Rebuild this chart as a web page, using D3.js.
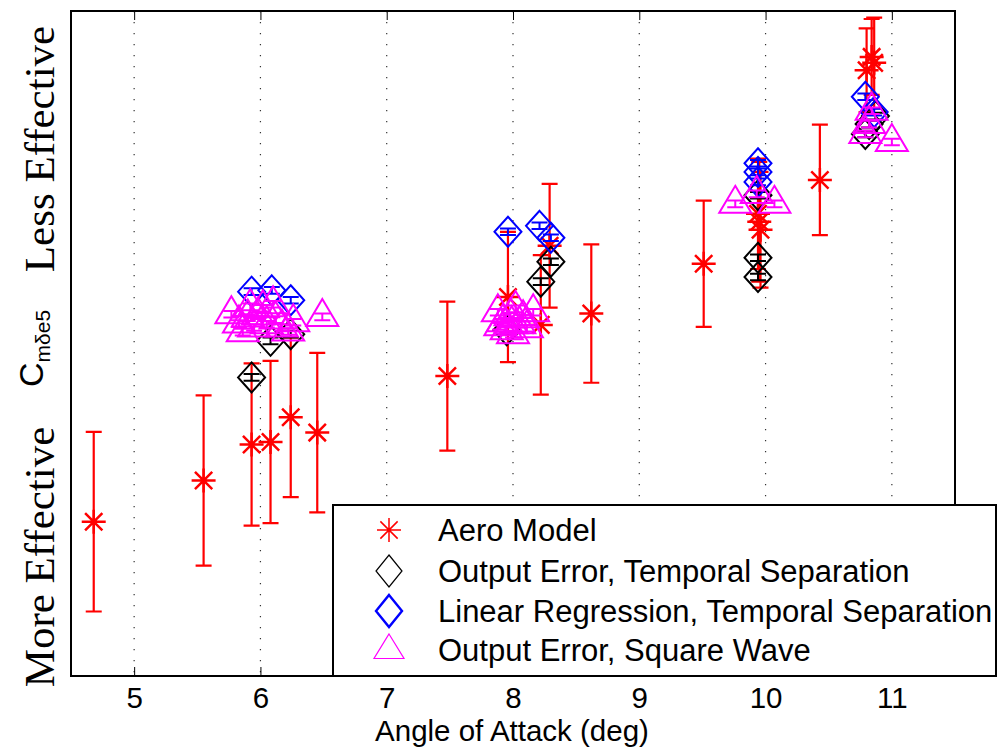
<!DOCTYPE html>
<html>
<head>
<meta charset="utf-8">
<script src="https://cdn.jsdelivr.net/npm/d3@7"></script>
<style>
  html, body { margin: 0; padding: 0; background: #fff; }
  svg { display: block; }
</style>
</head>
<body>
<script>
// ---------- DATA ----------
const xTicks = [5, 6, 7, 8, 9, 10, 11];

// Aero Model (red asterisks with error bars)
const aeroX   = [4.68, 5.55, 5.93, 6.08, 6.24, 6.45, 7.48, 7.96, 8.22, 8.29, 8.62, 9.51, 9.94, 9.95, 9.96, 10.43, 10.80, 10.86, 10.84];
const aeroY   = [23.2, 29.4, 34.8, 35.2, 38.9, 36.6, 45.1, 57.0, 52.8, 64.7, 54.5, 62.0, 69.5, 68.3, 67.1, 74.6, 91.1, 92.2, 93.1];
const aeroErr = [13.5, 12.8, 12.2, 12.2, 12.0, 12.0, 11.2, 9.8, 10.5, 9.3, 10.4, 9.5, 8.3, 9.0, 8.7, 8.3, 6.3, 6.8, 5.7];

// Output Error, Temporal Separation (black diamonds)
const oeTsX   = [5.93, 6.08, 6.24, 7.95, 8.22, 8.30, 9.94, 9.94, 9.94, 10.79, 10.82, 10.87];
const oeTsY   = [44.9, 50.4, 51.4, 52.0, 59.3, 62.3, 72.3, 62.9, 60.0, 81.5, 83.0, 84.2];
const oeTsErr = [0.5, 0.5, 0.5, 0.5, 0.5, 0.5, 0.5, 0.5, 0.5, 0.5, 0.5, 0.5];

// Linear Regression, Temporal Separation (blue diamonds)
const lrTsX   = [5.93, 6.09, 6.24, 7.96, 8.21, 8.30, 9.94, 9.94, 9.94, 10.79, 10.86];
const lrTsY   = [57.8, 58.0, 56.5, 66.8, 67.7, 65.9, 77.1, 75.8, 74.3, 87.1, 84.8];
const lrTsErr = [0.5, 0.5, 0.5, 0.5, 0.5, 0.5, 0.5, 0.5, 0.5, 0.5, 0.5];

// Output Error, Square Wave (magenta triangles)
const oeSwX   = [5.77, 5.83, 5.86, 5.90, 5.92, 5.95, 5.98, 6.02, 6.05, 6.10, 6.12, 6.17, 6.22, 6.26, 6.49,
                 7.88, 7.92, 7.95, 7.98, 8.00, 8.02, 8.05, 8.08, 8.11, 8.16, 7.90, 7.99,
                 9.76, 9.93, 10.07,
                 10.84, 10.82, 10.79, 11.00];
const oeSwY   = [54.4, 53.0, 51.7, 53.9, 55.5, 52.4, 54.2, 55.3, 52.9, 55.9, 53.6, 52.4, 51.8, 53.2, 54.0,
                 54.7, 53.2, 52.0, 54.1, 51.4, 55.2, 52.9, 53.8, 52.3, 54.7, 52.6, 52.9,
                 71.0, 72.5, 71.0,
                 85.0, 83.0, 81.5, 80.3];
const oeSwErr = oeSwX.map(() => 0.5);

const legendLabels = ["Aero Model", "Output Error, Temporal Separation",
                      "Linear Regression, Temporal Separation", "Output Error, Square Wave"];

// ---------- LAYOUT ----------
const W = 999, H = 748;
const L = 71, R = 955, T = 11, B = 676;
const x = d3.scaleLinear().domain([4.5, 11.5]).range([L, R]);
const y = d3.scaleLinear().domain([0, 100]).range([B, T]);

const svg = d3.select("body").append("svg").attr("width", W).attr("height", H);
svg.append("rect").attr("width", W).attr("height", H).attr("fill", "#fff");

const SANS = "'Liberation Sans', Arial, Helvetica, sans-serif";
const SERIF = "'Liberation Serif', 'Times New Roman', serif";
const FS = 31;     // legend
const FSAX = 29.5; // axis tick labels & title

// grid
svg.append("g").selectAll("line").data(xTicks).join("line")
  .attr("x1", d => x(d)).attr("x2", d => x(d))
  .attr("y1", T).attr("y2", B)
  .attr("stroke", "#333").attr("stroke-width", 1.2)
  .attr("stroke-dasharray", "1.2,9.8");

// axes
const gx = svg.append("g").attr("transform", `translate(0,${B})`)
  .call(d3.axisBottom(x).tickValues(xTicks).tickSizeInner(-9).tickSizeOuter(0).tickPadding(11).tickFormat(d3.format("d")));
const gxt = svg.append("g").attr("transform", `translate(0,${T})`)
  .call(d3.axisTop(x).tickValues(xTicks).tickSizeInner(-9).tickSizeOuter(0).tickFormat(""));
[gx, gxt].forEach(g => {
  g.select(".domain").remove();
  g.selectAll(".tick line").attr("stroke", "#000").attr("stroke-width", 1);
});
gx.selectAll(".tick text").attr("font-family", SANS).attr("font-size", FSAX).attr("fill", "#000");

// frame
svg.append("rect").attr("x", L).attr("y", T).attr("width", R - L).attr("height", B - T)
  .attr("fill", "none").attr("stroke", "#000").attr("stroke-width", 2);

// axis title
svg.append("text").attr("x", 512).attr("y", 741).attr("text-anchor", "middle")
  .attr("font-family", SANS).attr("font-size", FSAX).text("Angle of Attack (deg)");

// y label pieces
svg.append("text").attr("transform", "translate(54,149) rotate(-90)").attr("text-anchor", "middle")
  .attr("font-family", SERIF).attr("font-size", 43).text("Less Effective");
svg.append("text").attr("transform", "translate(54,557) rotate(-90)").attr("text-anchor", "middle")
  .attr("font-family", SERIF).attr("font-size", 43).text("More Effective");
const cl = svg.append("text").attr("transform", "translate(43,387) rotate(-90)")
  .attr("font-family", SANS).attr("font-size", 34);
cl.append("tspan").text("C");
cl.append("tspan").attr("font-size", 21).attr("dy", 7).text("mδe5");

// ---------- MARK HELPERS ----------
const CAP = 8;
function errorBars(g, xs, ys, es, color, sw) {
  const d = xs.map((v, i) => ({x: v, y: ys[i], e: es[i]}));
  const gg = g.append("g").attr("stroke", color).attr("stroke-width", sw).attr("fill", "none");
  gg.selectAll("path").data(d).join("path")
    .attr("d", p => {
      const cx = x(p.x), y1 = y(p.y + p.e), y2 = y(p.y - p.e);
      return `M${cx},${y1}V${y2}M${cx - CAP},${y1}H${cx + CAP}M${cx - CAP},${y2}H${cx + CAP}`;
    });
}
function asterisk(r) {
  const q = r * 0.72;
  return `M0,${-r}V${r}M${-r},0H${r}M${-q},${-q}L${q},${q}M${-q},${q}L${q},${-q}`;
}
function diamond(hw, hh) { return `M0,${-hh}L${hw},0L0,${hh}L${-hw},0Z`; }
function triangle(hw, up, down) { return `M0,${-up}L${hw},${down}L${-hw},${down}Z`; }

function markers(g, xs, ys, path, color, sw) {
  g.append("g").selectAll("path").data(xs.map((v, i) => ({x: v, y: ys[i]}))).join("path")
    .attr("transform", p => `translate(${x(p.x)},${y(p.y)})`)
    .attr("d", path).attr("fill", "none").attr("stroke", color).attr("stroke-width", sw)
    .attr("stroke-linejoin", "miter");
}

const plot = svg.append("g");
// Aero model
errorBars(plot, aeroX, aeroY, aeroErr, "#ff0000", 2.2);
markers(plot, aeroX, aeroY, asterisk(12), "#ff0000", 2.5);
// OE temporal
markers(plot, oeTsX, oeTsY, diamond(13.5, 15), "#000", 2);
errorBars(plot, oeTsX, oeTsY, oeTsErr, "#000", 2);
// LR temporal
markers(plot, lrTsX, lrTsY, diamond(13.5, 15), "#0000ff", 2);
errorBars(plot, lrTsX, lrTsY, lrTsErr, "#0000ff", 2);
// OE square wave
markers(plot, oeSwX, oeSwY, triangle(16, 18, 9), "#ff00ff", 2);
errorBars(plot, oeSwX, oeSwY, oeSwErr, "#ff00ff", 2);

// ---------- LEGEND ----------
const lg = svg.append("g");
lg.append("rect").attr("x", 333).attr("y", 505).attr("width", 663).attr("height", 171)
  .attr("fill", "#fff").attr("stroke", "#000").attr("stroke-width", 2);
const rowY = [530, 571, 611, 650];
const mx = 389;
lg.append("path").attr("transform", `translate(${mx},${rowY[0]})`).attr("d", asterisk(12))
  .attr("stroke", "#ff0000").attr("stroke-width", 1.5).attr("fill", "none");
lg.append("circle").attr("cx", mx).attr("cy", rowY[0]).attr("r", 2.2).attr("fill", "#ff0000");
lg.append("path").attr("transform", `translate(${mx},${rowY[1]})`).attr("d", diamond(13, 16))
  .attr("stroke", "#000").attr("stroke-width", 1.2).attr("fill", "none");
lg.append("path").attr("transform", `translate(${mx},${rowY[2]})`).attr("d", diamond(13, 16))
  .attr("stroke", "#0000ff").attr("stroke-width", 2.4).attr("fill", "none");
lg.append("path").attr("transform", `translate(${mx},${rowY[3]})`).attr("d", triangle(15, 16, 8.5))
  .attr("stroke", "#ff00ff").attr("stroke-width", 1.2).attr("fill", "none");
lg.selectAll("text.lab").data(legendLabels).join("text").attr("class", "lab")
  .attr("x", 438).attr("y", (d, i) => rowY[i] + 11)
  .attr("font-family", SANS).attr("font-size", FS).attr("fill", "#000").text(d => d);
</script>
</body>
</html>
